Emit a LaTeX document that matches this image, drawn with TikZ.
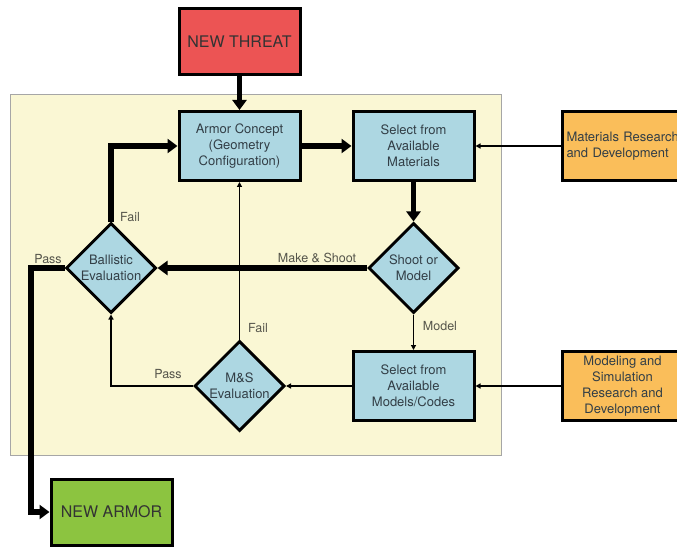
\documentclass[tikz,border=0pt]{standalone}
\usepackage{fontspec}
\setmainfont{TeX Gyre Heros}
\usetikzlibrary{shapes.geometric,arrows.meta}
\definecolor{bgyellow}{RGB}{250,247,212}
\definecolor{threatred}{RGB}{236,84,84}
\definecolor{boxblue}{RGB}{173,215,226}
\definecolor{rdorange}{RGB}{250,190,90}
\definecolor{armorgreen}{RGB}{140,196,64}
\definecolor{txtdark}{RGB}{50,62,70}
\definecolor{lbl}{RGB}{85,85,75}
\begin{document}
\begin{tikzpicture}[x=1pt,y=-1pt,
  procbox/.style={draw=black,line width=3pt,fill=boxblue,minimum width=121pt,minimum height=69pt,inner sep=0pt,align=center,text=txtdark,font=\fontsize{13}{16}\selectfont},
  bigbox/.style={draw=black,line width=3pt,minimum width=121pt,minimum height=66pt,inner sep=0pt,align=center,font=\fontsize{16}{19}\selectfont},
  rdbox/.style={draw=black,line width=3pt,fill=rdorange,minimum height=69pt,inner sep=0pt,text=txtdark,font=\fontsize{13}{16}\selectfont},
  decision/.style={shape=diamond,draw=black,line width=3pt,fill=boxblue,minimum width=90pt,minimum height=90pt,inner sep=0pt,align=center,text=txtdark,font=\fontsize{13}{16}\selectfont},
  thickarrow/.style={line width=5.5pt,-{Triangle[length=10pt,width=14pt]}},
  thinarrow/.style={line width=1.8pt,-{Triangle[length=5pt,width=5pt]}},
  lbltext/.style={text=lbl,font=\fontsize{12.5}{14}\selectfont,inner sep=0pt}]
\useasboundingbox (0,0) rectangle (677,548);
\fill[white] (0,0) rectangle (677,548);
\filldraw[fill=bgyellow,draw=gray!70,line width=0.8pt] (10,94) rectangle (501,455);

\node[bigbox,fill=threatred,text=black!80] (threat) at (239.5,41.5) {NEW THREAT};
\node[procbox] (concept) at (239.5,146) {Armor Concept\\(Geometry\\Configuration)};
\node[procbox] (materials) at (413.5,146) {Select from\\Available\\Materials};
\node[rdbox,anchor=west,minimum width=125pt,text width=117pt,align=left] (matrd) at (561,146) {Materials Research\\and Development};
\node[decision] (shoot) at (413.5,268) {Shoot or\\Model};
\node[decision] (ballistic) at (111,268) {Ballistic\\Evaluation};
\node[decision] (mse) at (239.5,386) {M\&S\\Evaluation};
\node[procbox] (models) at (413.5,386) {Select from\\Available\\Models/Codes};
\node[rdbox,anchor=west,minimum width=120pt,align=center] (modrd) at (561,386) {Modeling and\\Simulation\\Research and\\Development};
\node[bigbox,fill=armorgreen,text=black!80] (armor) at (111.5,512) {NEW ARMOR};
\coordinate (passcorner) at (31,268);

\draw[thickarrow] (threat) -- (concept);
\draw[thickarrow] (ballistic.north) |- (concept.west);
\draw[thickarrow] (concept) -- (materials);
\draw[thinarrow] (matrd) -- (materials);
\draw[thickarrow] (materials) -- (shoot);
\draw[thickarrow] (shoot) -- (ballistic);
\draw[thinarrow] (shoot) -- (models);
\draw[thinarrow] (modrd) -- (models);
\draw[thinarrow] (models) -- (mse);
\draw[thinarrow] (mse) -- (concept);
\draw[thinarrow] (mse.west) -| (ballistic.south);
\draw[thickarrow] (ballistic.west) -- (passcorner) |- (armor.west);

\node[lbltext] (failb) at (130,217) {Fail};
\node[lbltext] (passb) at (48,259) {Pass};
\node[lbltext] (makeshoot) at (317,258) {Make \& Shoot};
\node[lbltext] (modellbl) at (440,326) {Model};
\node[lbltext] (failm) at (258,328) {Fail};
\node[lbltext] (passm) at (168,374) {Pass};
\end{tikzpicture}
\end{document}
